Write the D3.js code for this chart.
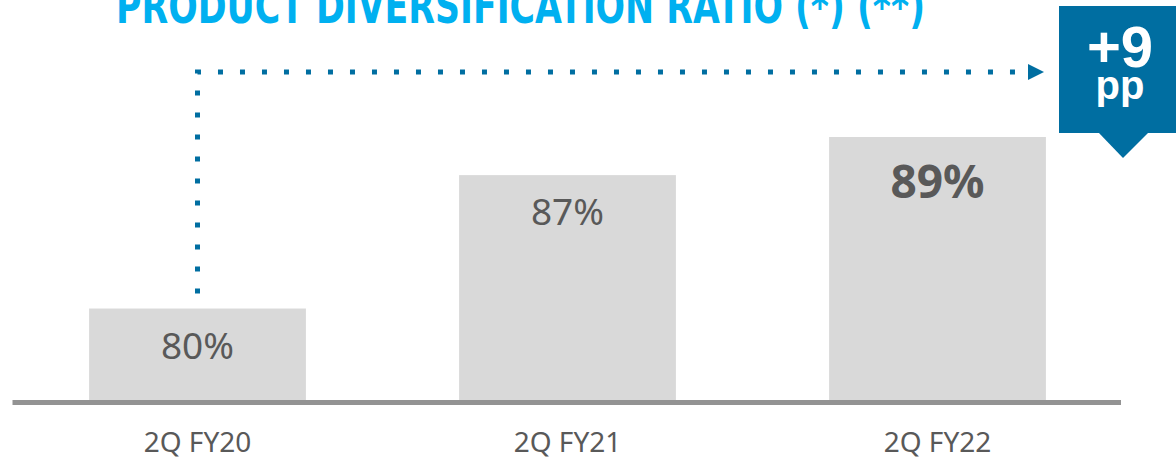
<!DOCTYPE html>
<html>
<head>
<meta charset="utf-8">
<script src="https://cdn.jsdelivr.net/npm/d3@7"></script>
<style>
  html, body { margin: 0; padding: 0; background: #fff; overflow: hidden; }
  svg { display: block; }
</style>
</head>
<body>
<div id="chart"></div>
<script>
var w = 1176,
    h = 457;

var categories = ["2Q FY20", "2Q FY21", "2Q FY22"];
var ratios = [80, 87, 89];
var labels = ["80%", "87%", "89%"];
var title = "PRODUCT DIVERSIFICATION RATIO (*) (**)";
var change = ["+9", "pp"];

var gray = "#d9d9d9",
    textGray = "#595959",
    blue = "#006ea1",
    cyan = "#00b0f0";

var svg = d3.select("#chart").append("svg")
    .attr("width", w)
    .attr("height", h);

var x = d3.scaleBand()
    .domain(categories)
    .range([12.5, 1122.5])
    .paddingInner(0.414)
    .paddingOuter(0.207);

var y = d3.scaleLinear()
    .domain([75.2, 89])
    .range([400, 137]);

// title, cut by the top edge
svg.append("text")
    .attr("x", 116)
    .attr("y", 23)
    .attr("textLength", 809)
    .attr("lengthAdjust", "spacingAndGlyphs")
    .style("font-family", "'Liberation Sans Narrow', 'DejaVu Sans Condensed', sans-serif")
    .style("font-weight", "bold")
    .style("font-size", "48px")
    .style("fill", cyan)
    .text(title);

// bars
svg.selectAll("rect.bar")
    .data(ratios)
    .enter().append("rect")
    .attr("class", "bar")
    .attr("x", function(d, i) { return x(categories[i]); })
    .attr("y", function(d) { return y(d); })
    .attr("width", x.bandwidth())
    .attr("height", function(d) { return y.range()[0] - y(d); })
    .style("fill", gray);

// value labels (last one bold)
svg.selectAll("text.value")
    .data(ratios)
    .enter().append("text")
    .attr("class", "value")
    .attr("x", function(d, i) { return x(categories[i]) + x.bandwidth() / 2; })
    .attr("y", function(d, i) { return y(d) + (i === 2 ? 61 : 50); })
    .attr("text-anchor", "middle")
    .style("font-family", "'Noto Sans', sans-serif")
    .style("font-weight", function(d, i) { return i === 2 ? "bold" : "normal"; })
    .style("font-size", function(d, i) { return i === 2 ? "46px" : "37px"; })
    .style("fill", textGray)
    .text(function(d, i) { return labels[i]; });

// baseline
svg.append("line")
    .attr("x1", x.range()[0])
    .attr("x2", x.range()[1] - 1.5)
    .attr("y1", y.range()[0] + 2.5)
    .attr("y2", y.range()[0] + 2.5)
    .style("stroke", "#939393")
    .style("stroke-width", 5);

// category labels
svg.selectAll("text.cat")
    .data(categories)
    .enter().append("text")
    .attr("class", "cat")
    .attr("x", function(d) { return x(d) + x.bandwidth() / 2; })
    .attr("y", 452)
    .attr("text-anchor", "middle")
    .style("font-family", "'Noto Sans', sans-serif")
    .style("font-size", "28px")
    .style("fill", textGray)
    .text(function(d) { return d; });

// dotted connector from first bar to the badge
var cx0 = x(categories[0]) + x.bandwidth() / 2;
var path = d3.path();
path.moveTo(cx0, y(ratios[0]) - 15);
path.lineTo(cx0, 72);
path.lineTo(1028, 72);

svg.append("path")
    .attr("d", path.toString())
    .style("fill", "none")
    .style("stroke", blue)
    .style("stroke-width", 5)
    .style("stroke-dasharray", "5 17");

svg.append("path")
    .attr("d", "M1028,64L1044,72L1028,80Z")
    .style("fill", blue);

// badge
svg.append("rect")
    .attr("x", 1059)
    .attr("y", 6)
    .attr("width", 130)
    .attr("height", 127)
    .style("fill", blue);

svg.append("path")
    .attr("d", "M1098,132L1149,132L1123,158Z")
    .style("fill", blue);

svg.append("text")
    .attr("x", 1120)
    .attr("y", 67)
    .attr("text-anchor", "middle")
    .style("font-family", "'Liberation Sans', Arial, sans-serif")
    .style("font-weight", "bold")
    .style("font-size", "58px")
    .style("fill", "#fff")
    .text(change[0]);

svg.append("text")
    .attr("x", 1120)
    .attr("y", 99)
    .attr("text-anchor", "middle")
    .style("font-family", "'Liberation Sans', Arial, sans-serif")
    .style("font-weight", "bold")
    .style("font-size", "40px")
    .style("fill", "#fff")
    .text(change[1]);
</script>
</body>
</html>
